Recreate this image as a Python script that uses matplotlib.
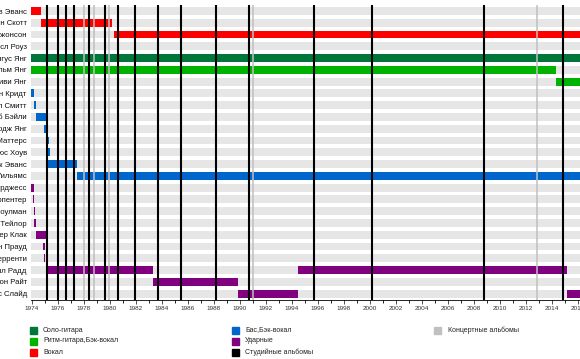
import matplotlib
matplotlib.use("Agg")
import matplotlib.pyplot as plt
from matplotlib.patches import Rectangle

plt.rcParams['font.family'] = ['Liberation Sans', 'DejaVu Sans']

members = ["Дэйв Эванс", "Бон Скотт", "Брайан Джонсон", "Эксл Роуз",
           "Ангус Янг", "Малькольм Янг", "Стиви Янг",
           "Ларри Ван Кридт", "Нил Смитт", "Роб Бэйли", "Джордж Янг",
           "Пол Маттерс", "Брюс Хоув", "Марк Эванс", "Клифф Уильямс",
           "Колин Бёрджесс", "Рон Карпентер", "Рассел Коулман", "Ноэл Тейлор",
           "Питер Клак", "Джон Прауд", "Тони Керренти", "Фил Радд",
           "Саймон Райт", "Крис Слайд"]

# (member index, start, end, role)
periods = [
    (0, 1973.9, 1974.69, "vocal"),
    (1, 1974.69, 1980.18, "vocal"),
    (2, 1980.31, 2016.3, "vocal"),
    (3, 2016.3, 2016.9, "vocal"),
    (4, 1973.9, 2016.9, "lead"),
    (5, 1973.9, 2014.32, "rhythm"),
    (6, 2014.32, 2016.9, "rhythm"),
    (7, 1973.9, 1974.18, "bass"),
    (7, 1975.05, 1975.15, "bass"),
    (8, 1974.13, 1974.33, "bass"),
    (9, 1974.28, 1975.13, "bass"),
    (10, 1974.9, 1975.2, "bass"),
    (11, 1975.15, 1975.3, "bass"),
    (12, 1975.2, 1975.38, "bass"),
    (13, 1975.25, 1977.49, "bass"),
    (14, 1977.49, 2016.9, "bass"),
    (15, 1973.9, 1974.18, "drums"),
    (16, 1974.1, 1974.18, "drums"),
    (17, 1974.13, 1974.25, "drums"),
    (18, 1974.18, 1974.33, "drums"),
    (19, 1974.28, 1975.18, "drums"),
    (20, 1974.87, 1974.98, "drums"),
    (21, 1974.92, 1974.98, "drums"),
    (22, 1975.13, 1983.34, "drums"),
    (22, 1994.5, 2015.16, "drums"),
    (23, 1983.34, 1989.88, "drums"),
    (24, 1989.88, 1994.5, "drums"),
    (24, 2015.16, 2016.9, "drums"),
]

studio_albums = [1975.13, 1975.99, 1976.6, 1977.22, 1978.4, 1979.6, 1980.6,
                 1981.9, 1983.7, 1985.5, 1988.2, 1990.73, 1995.74, 2000.16,
                 2008.8, 2014.91]
live_albums = [1978.0, 1978.8, 1979.95, 1991.0, 2012.9]

colors = {"lead": "#00763a", "rhythm": "#00b300", "vocal": "#ff0000",
          "bass": "#0066cc", "drums": "#800080"}

legend_items = [("Соло-гитара", "#00763a"), ("Ритм-гитара,Бэк-вокал", "#00b300"),
                ("Вокал", "#ff0000"), ("Бас,Бэк-вокал", "#0066cc"),
                ("Ударные", "#800080"), ("Студийные альбомы", "black"),
                ("Концертные альбомы", "#c0c0c0")]

W, H = 580, 359
fig = plt.figure(figsize=(W / 100, H / 100), dpi=100)
ax = fig.add_axes([31 / W, 1 - 299.5 / H, 1 - 31 / W, (299.5 - 5) / H])

x0, x1 = 1973.92, 2016.19
ax.set_xlim(x0, x1)
ax.set_ylim(len(members) - 0.5, -0.5)

bh = 0.67
for i in range(len(members)):
    ax.barh(i, x1 - x0 + 2, left=x0 - 1, height=bh, color="#e6e6e6", zorder=1)

for i, s, e, role in periods:
    ax.barh(i, e - s, left=s, height=bh, color=colors[role], zorder=2)

for x in live_albums:
    ax.axvline(x, color="#c0c0c0", lw=1.1, zorder=3)
for x in studio_albums:
    ax.axvline(x, color="black", lw=1.5, zorder=4)

ax.set_yticks(range(len(members)))
ax.set_yticklabels(members, fontsize=5.6, color="#111111")
ax.tick_params(axis="y", length=0, pad=3)

ax.set_xticks(range(1974, 2017, 2))
ax.set_xticks(range(1974, 2017), minor=True)
ax.tick_params(axis="x", which="major", length=3, width=0.6, labelsize=4.6,
               pad=2, colors="#333333")
ax.tick_params(axis="x", which="minor", length=2, width=0.6)
for sp in ["top", "right", "left"]:
    ax.spines[sp].set_visible(False)
ax.spines["bottom"].set_linewidth(0.6)

cols = [(30, 43), (232, 245), (434, 448)]
rows_y = [330, 341, 352]
for k, (label, c) in enumerate(legend_items):
    col, row = k // 3, k % 3
    sx, tx = cols[col]
    y = rows_y[row]
    fig.add_artist(Rectangle((sx / W, 1 - (y + 3.5) / H), 7 / W, 7 / H,
                             transform=fig.transFigure, color=c))
    fig.text(tx / W, 1 - y / H, label, fontsize=5, va="center", ha="left",
             color="#222222")

fig.savefig("out.png", dpi=100)
